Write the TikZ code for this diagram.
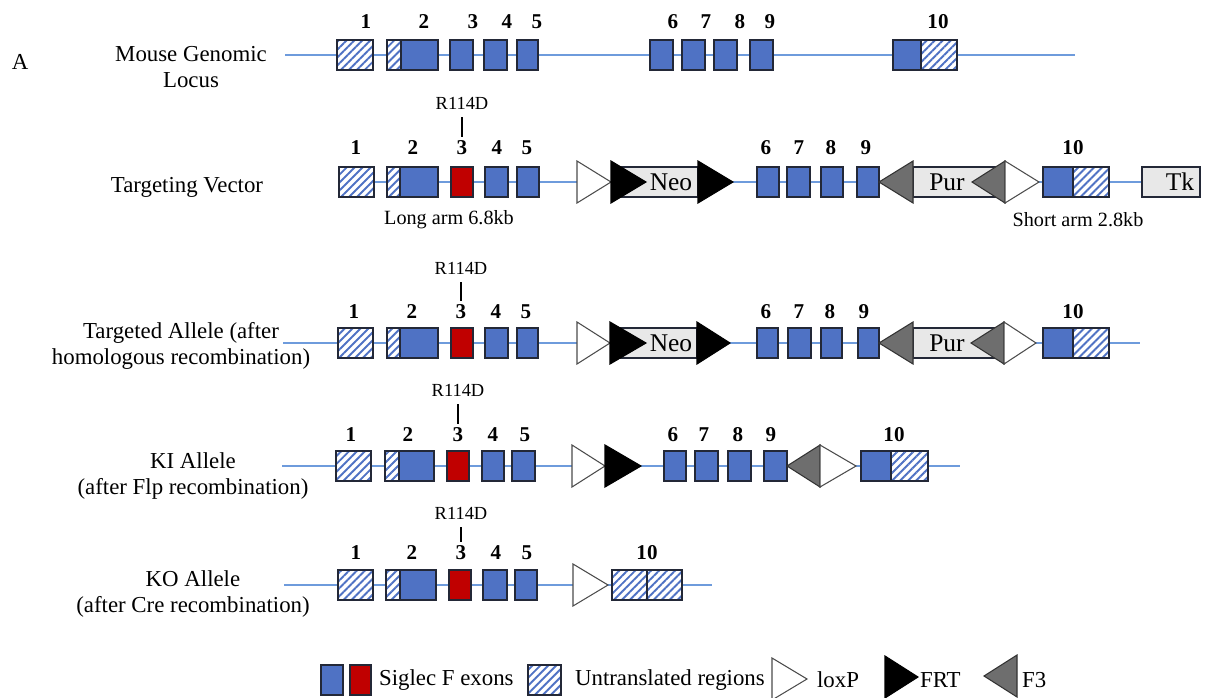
\documentclass[tikz,border=0pt]{standalone}
\usepackage{fontspec}
\setmainfont{Liberation Serif}
\usepackage{tikz}
\usetikzlibrary{patterns.meta}
\definecolor{exonblue}{RGB}{79,114,196}
\definecolor{exonred}{RGB}{192,0,0}
\definecolor{dnablue}{RGB}{110,155,220}
\definecolor{edgedark}{RGB}{35,40,55}
\definecolor{cassgray}{RGB}{232,232,232}
\definecolor{fthree}{RGB}{110,110,110}
\newcommand*{\numstyle}{\bfseries\fontsize{12}{14}\selectfont}
\newcommand*{\labstyle}{\fontsize{13}{14.8}\selectfont}
\newcommand{\exon}[4]{%
% left, right, line height, fill options
  \fill[white] (#1,#3-15) rectangle (#2,#3+15);
  \filldraw[#4, draw=edgedark, line width=0.8pt] (#1,#3-15) rectangle (#2,#3+15);
}
\newcommand{\site}[4]{%
% base, tip, line height, fill options
  \filldraw[#4, line width=0.6pt] (#1,#3-21) -- (#2,#3) -- (#1,#3+21) -- cycle;
}
\newcommand{\cassette}[6]{%
% left, right, line height, text position, name, text
  \filldraw[fill=cassgray, draw=edgedark, line width=0.7pt] (#1,#3-15) rectangle (#2,#3+15);
  \node[font=\fontsize{14.5}{16}\selectfont, inner sep=0pt] (#5) at (#4,#3) {#6};
}
\tikzset{
  blue exon/.style={fill=exonblue},
  red exon/.style={fill=exonred},
  utr/.style={pattern={Lines[angle=45,distance=3.2pt,line width=1.1pt]}, pattern color=exonblue},
  loxp/.style={fill=white, draw=black!70},
  frt/.style={fill=black, draw=black},
  f3/.style={fill=fthree, draw=black!80},
  dna/.style={draw=dnablue, line width=0.7pt},
  num/.style={font=\numstyle, inner sep=2pt},
  mut/.style={font=\fontsize{10.5}{12}\selectfont},
  tick/.style={line width=0.9pt, shorten <=1pt},
  arm/.style={font=\fontsize{11.5}{13}\selectfont},
  title/.style={font=\labstyle, align=center},
  leg/.style={font=\labstyle, anchor=west, inner sep=1pt},
}

\begin{document}
\begin{tikzpicture}[x=0.02cm, y=-0.02cm]
  \useasboundingbox (0,0) rectangle (1229,697);
  \node[title] (fig) at (20,62) {A};
  % mouse genomic locus
  \node[title] (t1) at (191,67) {Mouse Genomic\\Locus};
  \draw[dna] (285,55) -- (1075,55);
  \exon{337}{373}{55}{utr}
  \exon{387}{401}{55}{utr}
  \exon{401}{438}{55}{blue exon}
  \exon{450}{473}{55}{blue exon}
  \exon{484}{507}{55}{blue exon}
  \exon{517}{538}{55}{blue exon}
  \exon{650}{673}{55}{blue exon}
  \exon{682}{705}{55}{blue exon}
  \exon{714}{737}{55}{blue exon}
  \exon{750}{773}{55}{blue exon}
  \exon{893}{921}{55}{blue exon}
  \exon{921}{957}{55}{utr}
  \foreach \t/\x in {1/366,2/424,3/473,4/507,5/537,6/673,7/706,8/740,9/770,10/938}
    \node[num] (a\t) at (\x,22) {\t};
  % targeting vector
  \node[title] (t2) at (187,187) {Targeting Vector};
  \draw[dna] (339,182) -- (1142,182);
  \exon{339}{374}{182}{utr}
  \exon{387}{400}{182}{utr}
  \exon{400}{438}{182}{blue exon}
  \exon{451}{473}{182}{red exon}
  \exon{485}{508}{182}{blue exon}
  \exon{517}{539}{182}{blue exon}
  \site{577}{611}{182}{loxp}
  \cassette{622}{698}{182}{671}{neoB}{Neo}
  \site{611}{646}{182}{frt}
  \site{698}{733}{182}{frt}
  \exon{757}{779}{182}{blue exon}
  \exon{787}{810}{182}{blue exon}
  \exon{821}{843}{182}{blue exon}
  \exon{857}{879}{182}{blue exon}
  \cassette{913}{998}{182}{947}{purB}{Pur}
  \site{913}{879}{182}{f3}
  \site{1005}{972}{182}{f3}
  \site{1005}{1039}{182}{loxp}
  \exon{1043}{1073}{182}{blue exon}
  \exon{1073}{1109}{182}{utr}
  \cassette{1142}{1200}{182}{1180}{tkB}{Tk}
  \foreach \t/\x in {1/356,2/413,3/462,4/497,5/527,6/766,7/799,8/831,9/866,10/1073}
    \node[num] (b\t) at (\x,148) {\t};
  \node[mut] (bm) at (462,103) {R114D};
  \draw[tick] (bm.south) -- (b3.north);
  \node[arm] (long) at (449,220) {Long arm 6.8kb};
  \node[arm] (short) at (1078,220) {Short arm 2.8kb};
  % targeted allele
  \node[title] (t3) at (181,346) {Targeted Allele (after\\homologous recombination)};
  \draw[dna] (283,343) -- (1140,343);
  \exon{338}{373}{343}{utr}
  \exon{387}{400}{343}{utr}
  \exon{400}{438}{343}{blue exon}
  \exon{451}{473}{343}{red exon}
  \exon{485}{508}{343}{blue exon}
  \exon{517}{538}{343}{blue exon}
  \site{577}{610}{343}{loxp}
  \cassette{621}{697}{343}{671}{neoC}{Neo}
  \site{610}{646}{343}{frt}
  \site{697}{730}{343}{frt}
  \exon{757}{778}{343}{blue exon}
  \exon{788}{811}{343}{blue exon}
  \exon{821}{842}{343}{blue exon}
  \exon{858}{879}{343}{blue exon}
  \cassette{913}{1000}{343}{947}{purC}{Pur}
  \site{913}{879}{343}{f3}
  \site{1004}{971}{343}{f3}
  \site{1004}{1036}{343}{loxp}
  \exon{1043}{1073}{343}{blue exon}
  \exon{1073}{1109}{343}{utr}
  \foreach \t/\x in {1/354,2/412,3/461,4/496,5/526,6/766,7/799,8/830,9/864,10/1073}
    \node[num] (c\t) at (\x,312) {\t};
  \node[mut] (cm) at (461,268) {R114D};
  \draw[tick] (cm.south) -- (c3.north);
  % KI allele
  \node[title] (t4) at (193,476) {KI Allele\\(after Flp recombination)};
  \draw[dna] (282,466) -- (960,466);
  \exon{336}{371}{466}{utr}
  \exon{385}{399}{466}{utr}
  \exon{399}{434}{466}{blue exon}
  \exon{447}{469}{466}{red exon}
  \exon{482}{504}{466}{blue exon}
  \exon{512}{535}{466}{blue exon}
  \site{572}{605}{466}{loxp}
  \site{605}{641}{466}{frt}
  \exon{664}{686}{466}{blue exon}
  \exon{695}{718}{466}{blue exon}
  \exon{728}{751}{466}{blue exon}
  \exon{764}{787}{466}{blue exon}
  \site{820}{787}{466}{f3}
  \site{820}{856}{466}{loxp}
  \exon{861}{891}{466}{blue exon}
  \exon{891}{928}{466}{utr}
  \foreach \t/\x in {1/351,2/408,3/458,4/493,5/525,6/673,7/704,8/738,9/771,10/894}
    \node[num] (d\t) at (\x,435) {\t};
  \node[mut] (dm) at (458,390) {R114D};
  \draw[tick] (dm.south) -- (d3.north);
  % KO allele
  \node[title] (t5) at (193,594) {KO Allele\\(after Cre recombination)};
  \draw[dna] (284,585) -- (712,585);
  \exon{338}{373}{585}{utr}
  \exon{386}{400}{585}{utr}
  \exon{400}{436}{585}{blue exon}
  \exon{449}{471}{585}{red exon}
  \exon{483}{507}{585}{blue exon}
  \exon{515}{537}{585}{blue exon}
  \site{573}{608}{585}{loxp}
  \exon{612}{647}{585}{utr}
  \exon{647}{682}{585}{utr}
  \foreach \t/\x in {1/356,2/412,3/461,4/496,5/527,10/647}
    \node[num] (e\t) at (\x,553) {\t};
  \node[mut] (em) at (461,513) {R114D};
  \draw[tick] (em.south) -- (e3.north);
  % legend
  \exon{321}{343}{680}{blue exon}
  \exon{350}{371}{680}{red exon}
  \node[leg] (l1) at (377,680) {Siglec F exons};
  \exon{528}{561}{680}{utr}
  \node[leg] (l2) at (573,680) {Untranslated regions};
  \site{772}{807}{679}{loxp}
  \node[leg] (l3) at (815,680) {loxP};
  \site{885}{918}{677}{frt}
  \node[leg] (l4) at (918,680) {FRT};
  \site{1017}{984}{676}{f3}
  \node[leg] (l5) at (1020,680) {F3};
\end{tikzpicture}
\end{document}
